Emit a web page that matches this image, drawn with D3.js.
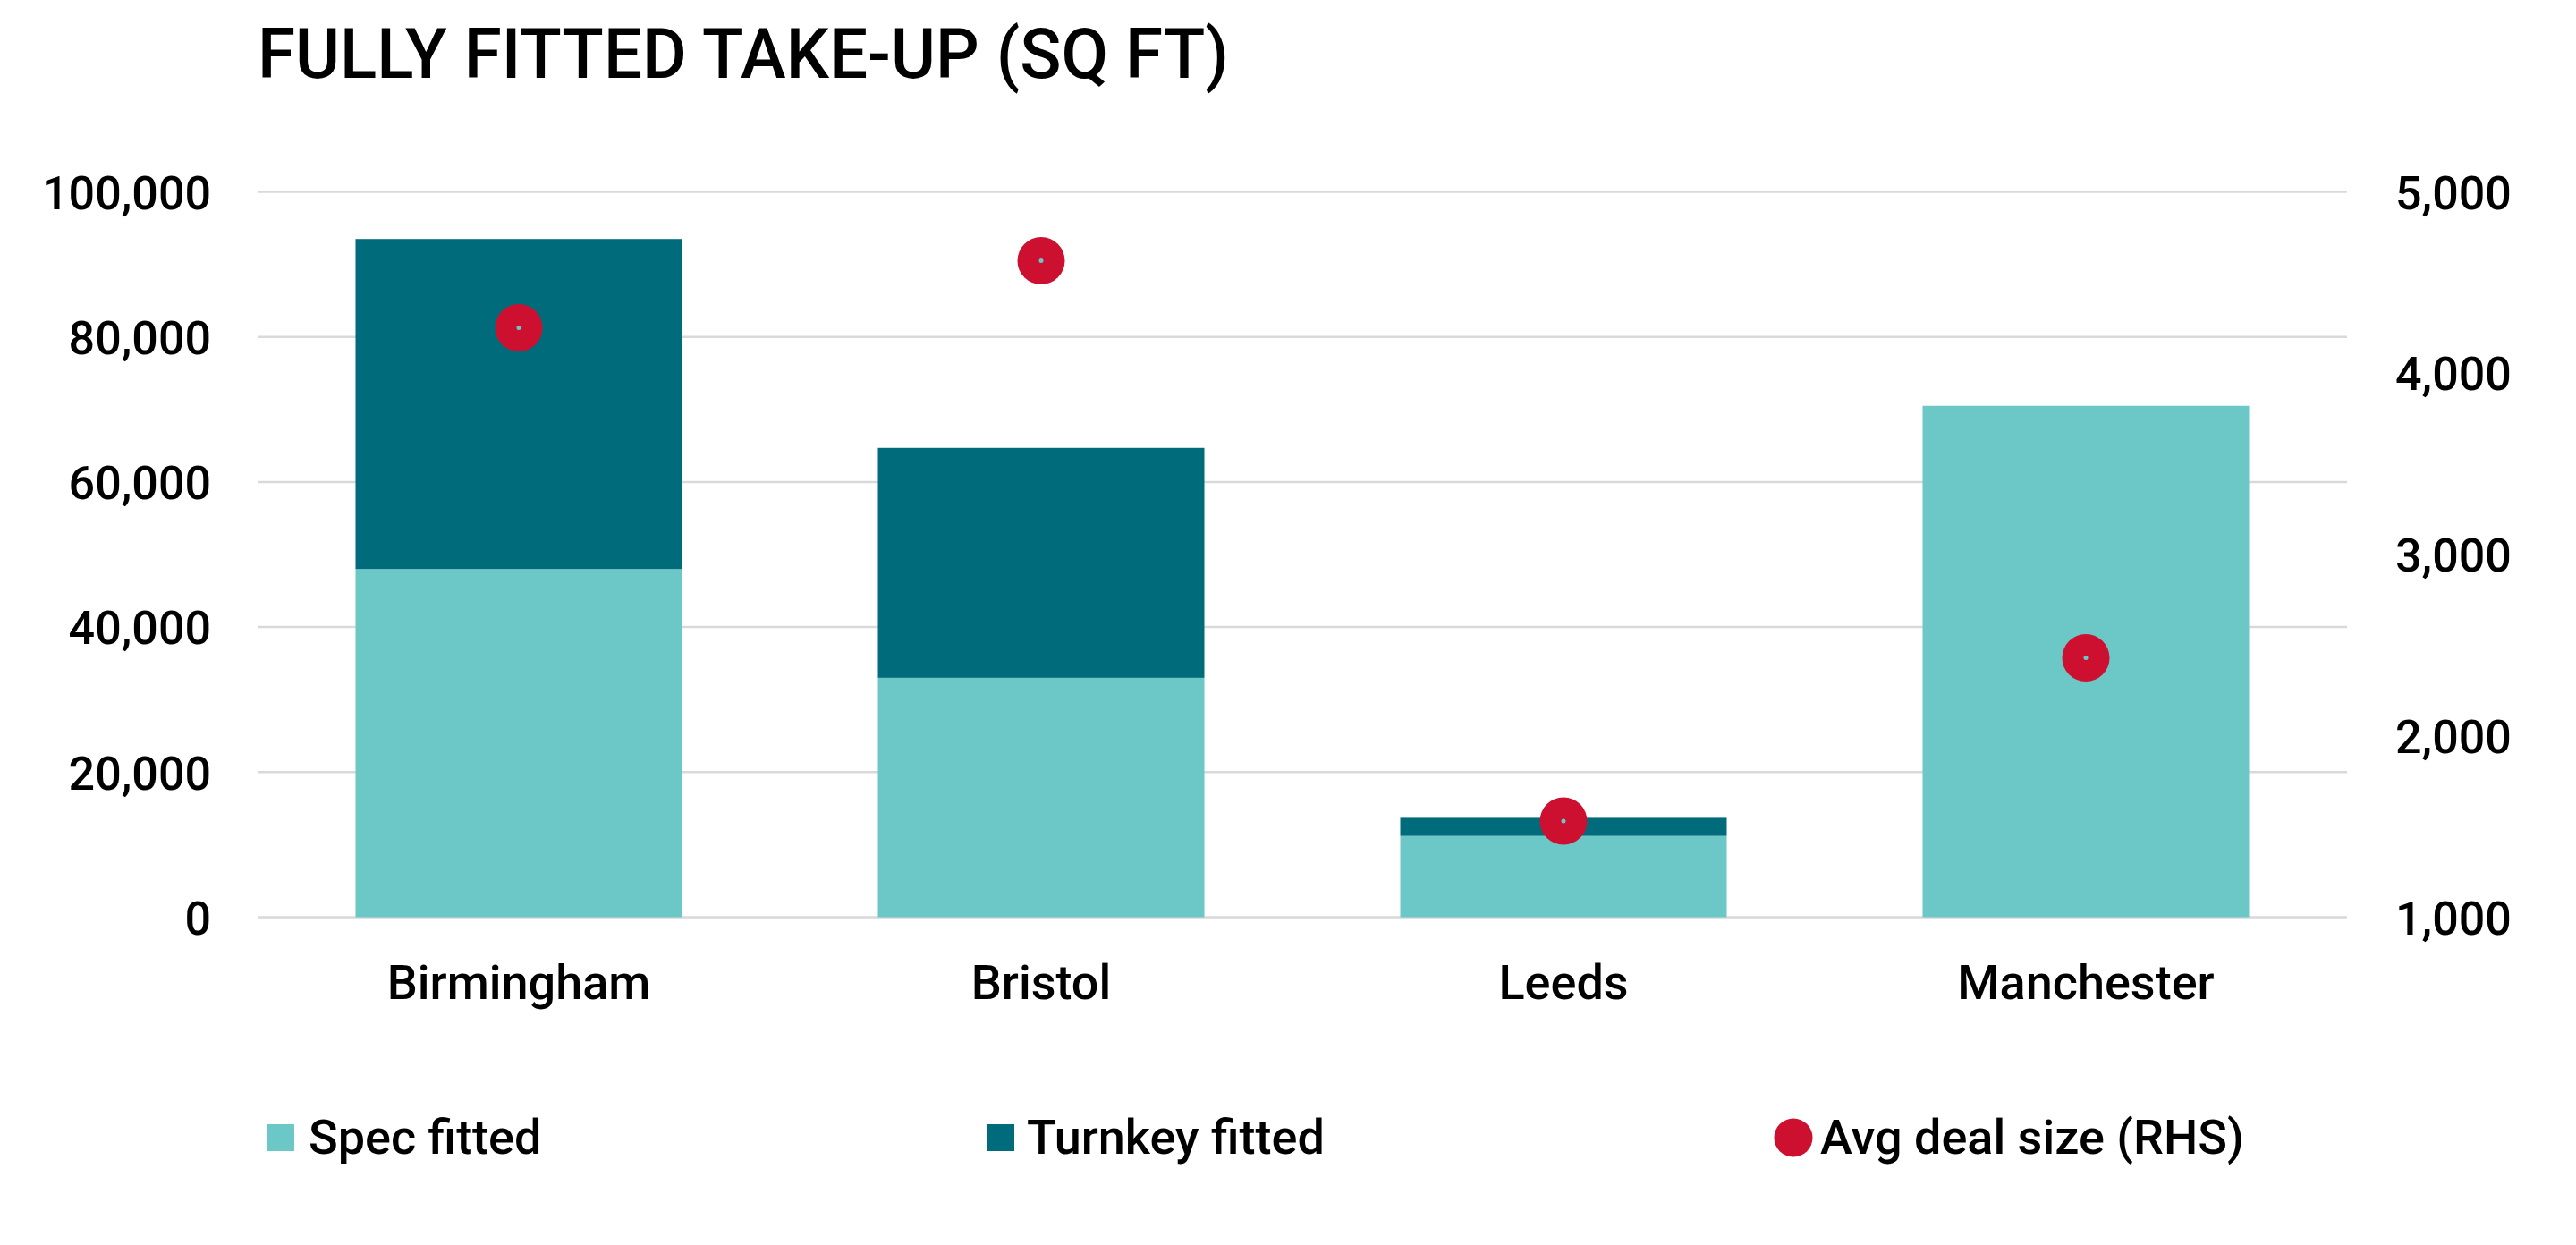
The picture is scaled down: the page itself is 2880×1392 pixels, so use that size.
<!DOCTYPE html>
<html>
<head>
<meta charset="utf-8">
<script src="https://cdn.jsdelivr.net/npm/d3@7"></script>
<style>
  html, body { margin: 0; padding: 0; background: #ffffff; }
  svg text { font-family: Roboto, "Noto Sans", sans-serif; fill: #000; font-weight: 500; }
</style>
</head>
<body>
<svg id="chart" width="2880" height="1392"></svg>
<script>
// ---- data ----
const categories = ["Birmingham", "Bristol", "Leeds", "Manchester"];
const specFitted = [48000, 33000, 11200, 70500];
const turnkeyFitted = [45500, 31700, 2500, 0];
const avgDealSize = [4250, 4620, 1530, 2430];
const leftTicks = [0, 20000, 40000, 60000, 80000, 100000];
const rightTicks = [1000, 2000, 3000, 4000, 5000];
const seriesNames = ["Spec fitted", "Turnkey fitted", "Avg deal size (RHS)"];
const titleText = "FULLY FITTED TAKE-UP (SQ FT)";

// ---- layout ----
const plot = { left: 288, right: 2624, top: 214.5, bottom: 1025.5 };
const colors = { spec: "#6CC7C7", turnkey: "#006B7A", avg: "#CE1030", grid: "#D9D9D9" };
const FONT = "Roboto, 'Noto Sans', sans-serif";

const svg = d3.select("#chart");

const x = d3.scaleBand().domain(categories).range([plot.left, plot.right]).padding(0);
const barW = x.bandwidth() * 0.625;
const yL = d3.scaleLinear().domain([0, 100000]).range([plot.bottom, plot.top]);
const yR = d3.scaleLinear().domain([1000, 5000]).range([plot.bottom, plot.top]);
const fmt = d3.format(",");

// title
svg.append("text")
  .attr("x", plot.left).attr("y", 87)
  .attr("font-size", 78)
  .attr("textLength", 1086).attr("lengthAdjust", "spacingAndGlyphs")
  .text(titleText);

// gridlines
svg.append("g").selectAll("line").data(leftTicks).join("line")
  .attr("x1", plot.left).attr("x2", plot.right)
  .attr("y1", d => yL(d)).attr("y2", d => yL(d))
  .attr("stroke", colors.grid).attr("stroke-width", 2.5);

// left axis labels
const leftAxis = d3.axisLeft(yL).tickValues(leftTicks).tickFormat(fmt).tickSize(0).tickPadding(0);
const gL = svg.append("g").attr("transform", `translate(236,0)`).call(leftAxis);
gL.select(".domain").remove();
gL.selectAll("text").attr("font-size", 52).attr("fill", "#000")
  .attr("font-family", FONT).attr("font-weight", 500).attr("dy", "0.36em");

// right axis labels
const rightAxis = d3.axisRight(yR).tickValues(rightTicks).tickFormat(fmt).tickSize(0).tickPadding(0);
const gR = svg.append("g").attr("transform", `translate(2678,0)`).call(rightAxis);
gR.select(".domain").remove();
gR.selectAll("text").attr("font-size", 52).attr("fill", "#000")
  .attr("font-family", FONT).attr("font-weight", 500).attr("dy", "0.36em");

// stacked bars
const rows = categories.map((c, i) => ({ cat: c, spec: specFitted[i], turnkey: turnkeyFitted[i] }));
const stack = d3.stack().keys(["spec", "turnkey"])(rows);
const barColors = { spec: colors.spec, turnkey: colors.turnkey };
svg.append("g").selectAll("g").data(stack).join("g")
  .attr("fill", s => barColors[s.key])
  .selectAll("rect").data(s => s).join("rect")
  .attr("x", d => x(d.data.cat) + (x.bandwidth() - barW) / 2)
  .attr("width", barW)
  .attr("y", d => yL(d[1]))
  .attr("height", d => Math.max(0, yL(d[0]) - yL(d[1])));

// category labels
const xAxis = d3.axisBottom(x).tickSize(0).tickPadding(0);
const gX = svg.append("g").attr("transform", `translate(0,1117)`).call(xAxis);
gX.select(".domain").remove();
gX.selectAll("text").attr("font-size", 54).attr("fill", "#000")
  .attr("font-family", FONT).attr("font-weight", 500).attr("dy", 0);

// avg deal size markers
const pts = svg.append("g").selectAll("g").data(categories).join("g")
  .attr("transform", (c, i) => `translate(${x(c) + x.bandwidth() / 2},${yR(avgDealSize[i])})`);
pts.append("circle").attr("r", 26.5).attr("fill", colors.avg);
pts.append("circle").attr("r", 2.5).attr("fill", "#6CC7C7");

// legend
const legend = svg.append("g");
legend.append("rect").attr("x", 299).attr("y", 1257).attr("width", 30).attr("height", 30).attr("fill", colors.spec);
legend.append("text").attr("x", 345).attr("y", 1290).attr("font-size", 54).text(seriesNames[0]);
legend.append("rect").attr("x", 1104).attr("y", 1257).attr("width", 30).attr("height", 30).attr("fill", colors.turnkey);
legend.append("text").attr("x", 1148).attr("y", 1290).attr("font-size", 54).text(seriesNames[1]);
legend.append("circle").attr("cx", 2005).attr("cy", 1272).attr("r", 21.5).attr("fill", colors.avg);
legend.append("text").attr("x", 2035).attr("y", 1290).attr("font-size", 54).text(seriesNames[2]);
</script>
</body>
</html>
